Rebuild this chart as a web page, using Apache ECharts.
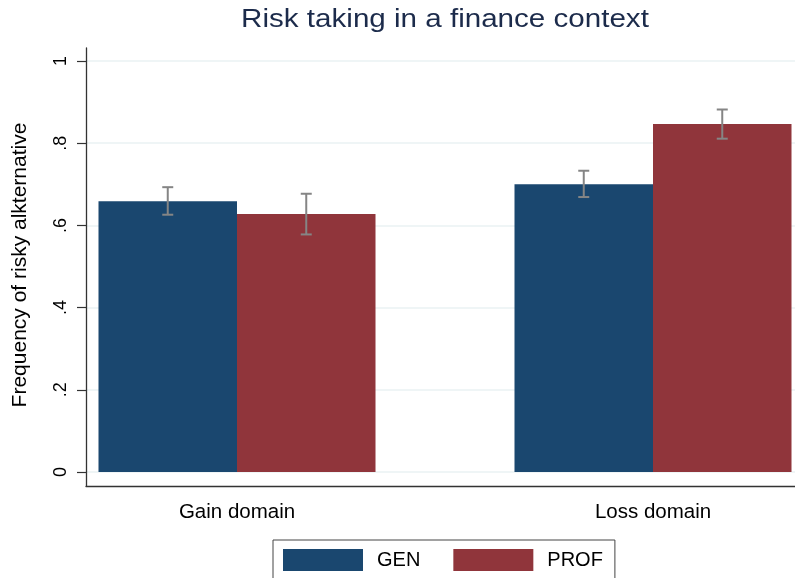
<!DOCTYPE html>
<html>
<head>
<meta charset="utf-8">
<script src="https://cdn.jsdelivr.net/npm/echarts@6/dist/echarts.min.js"></script>
<style>html,body{margin:0;padding:0;background:#fff}#c{width:795px;height:578px}</style>
</head>
<body>
<div id="c"></div>
<script>
var categories = ['Gain domain', 'Loss domain'];
var seriesNames = ['GEN', 'PROF'];
var genMeans = [0.659, 0.700];
var genLow = [0.626, 0.669];
var genHigh = [0.693, 0.733];
var profMeans = [0.628, 0.847];
var profLow = [0.578, 0.811];
var profHigh = [0.677, 0.882];
var yTicks = [0, 0.2, 0.4, 0.6, 0.8, 1];
var titleText = 'Risk taking in a finance context';
var yTitle = 'Frequency of risky alkternative';

var FONT = '"Liberation Sans", Arial, sans-serif';
var BAR_W = 138.5;
var colors = ['#1a476f', '#90353b'];

function errData(low, high) {
  return categories.map(function (c, i) { return [i, low[i], high[i]]; });
}
function errSeries(name, low, high, side) {
  return {
    type: 'custom', name: name + ' CI', xAxisIndex: 0, yAxisIndex: 0, z: 5,
    silent: true, clip: false,
    data: errData(low, high),
    encode: { x: 0, y: [1, 2] },
    renderItem: function (params, api) {
      var lo = api.coord([api.value(0), api.value(1)]);
      var hi = api.coord([api.value(0), api.value(2)]);
      var x = lo[0] + side * BAR_W / 2;
      var cap = 5.5;
      var st = { stroke: '#858585', lineWidth: 2 };
      return { type: 'group', children: [
        { type: 'line', shape: { x1: x, y1: lo[1], x2: x, y2: hi[1] }, style: st },
        { type: 'line', shape: { x1: x - cap, y1: lo[1], x2: x + cap, y2: lo[1] }, style: st },
        { type: 'line', shape: { x1: x - cap, y1: hi[1], x2: x + cap, y2: hi[1] }, style: st }
      ]};
    }
  };
}

var chart = echarts.init(document.getElementById('c'), null, { renderer: 'canvas' });
chart.setOption({
  animation: false,
  backgroundColor: '#ffffff',
  legend: {
    data: seriesNames, left: 273, top: 540, orient: 'horizontal',
    itemWidth: 80, itemHeight: 22, itemGap: 33,
    padding: [9, 12, 9, 10],
    borderColor: '#444', borderWidth: 1, borderRadius: 0,
    icon: 'rect',
    textStyle: { fontFamily: FONT, fontSize: 20, color: '#000', padding: [0, 0, 0, 9] }
  },
  grid: [
    { left: 237, width: 416, top: 61, height: 411 },
    { left: 86, right: 0, top: 61, height: 411 },
    { left: 86, right: 0, top: 48, height: 438 }
  ],
  xAxis: [
    { type: 'category', gridIndex: 0, data: categories, boundaryGap: false,
      axisLine: { show: false }, axisTick: { show: false }, splitLine: { show: false },
      axisLabel: { margin: 30, fontFamily: FONT, fontSize: 20.5, color: '#000' } },
    { type: 'value', gridIndex: 1, show: false },
    { type: 'value', gridIndex: 2, min: 0, max: 1,
      axisLine: { show: true, lineStyle: { color: '#333', width: 1.3 } },
      axisTick: { show: false }, axisLabel: { show: false }, splitLine: { show: false } }
  ],
  yAxis: [
    { type: 'value', gridIndex: 0, min: 0, max: 1, show: false },
    { type: 'value', gridIndex: 1, min: yTicks[0], max: yTicks[yTicks.length - 1], interval: yTicks[1] - yTicks[0],
      axisLine: { show: false },
      axisTick: { show: true, inside: false, length: 9, lineStyle: { color: '#333', width: 1.2 } },
      axisLabel: { rotate: 90, margin: 16, fontFamily: FONT, fontSize: 18, color: '#000',
        formatter: function (v) {
          var r = Math.round(v * 10) / 10;
          if (r === 0) return '0';
          if (r === 1) return '1';
          return r.toFixed(1).replace('0.', '.');
        } },
      splitLine: { show: true, lineStyle: { color: '#eaf2f3', width: 1.5 } } },
    { type: 'value', gridIndex: 2, min: 0, max: 1,
      axisLine: { show: true, lineStyle: { color: '#333', width: 1.3 } },
      axisTick: { show: false }, axisLabel: { show: false }, splitLine: { show: false } }
  ],
  graphic: [
    { type: 'text', x: 445, y: 19.5, scaleX: 1.16,
      style: { text: titleText, fontFamily: FONT, fontSize: 25.5,
        fill: '#1c2b4b', align: 'center', verticalAlign: 'middle' } },
    { type: 'text', x: 20, y: 265, rotation: Math.PI / 2,
      style: { text: yTitle, fontFamily: FONT, fontSize: 21,
        fill: '#000', align: 'center', verticalAlign: 'middle' } }
  ],
  series: [
    { type: 'bar', name: 'GEN', xAxisIndex: 0, yAxisIndex: 0, data: genMeans, clip: false,
      barWidth: BAR_W, barGap: '0%', itemStyle: { color: colors[0] } },
    { type: 'bar', name: 'PROF', xAxisIndex: 0, yAxisIndex: 0, data: profMeans, clip: false,
      barWidth: BAR_W, barGap: '0%', itemStyle: { color: colors[1] } },
    errSeries('GEN', genLow, genHigh, -1),
    errSeries('PROF', profLow, profHigh, 1)
  ]
});
</script>
</body>
</html>
